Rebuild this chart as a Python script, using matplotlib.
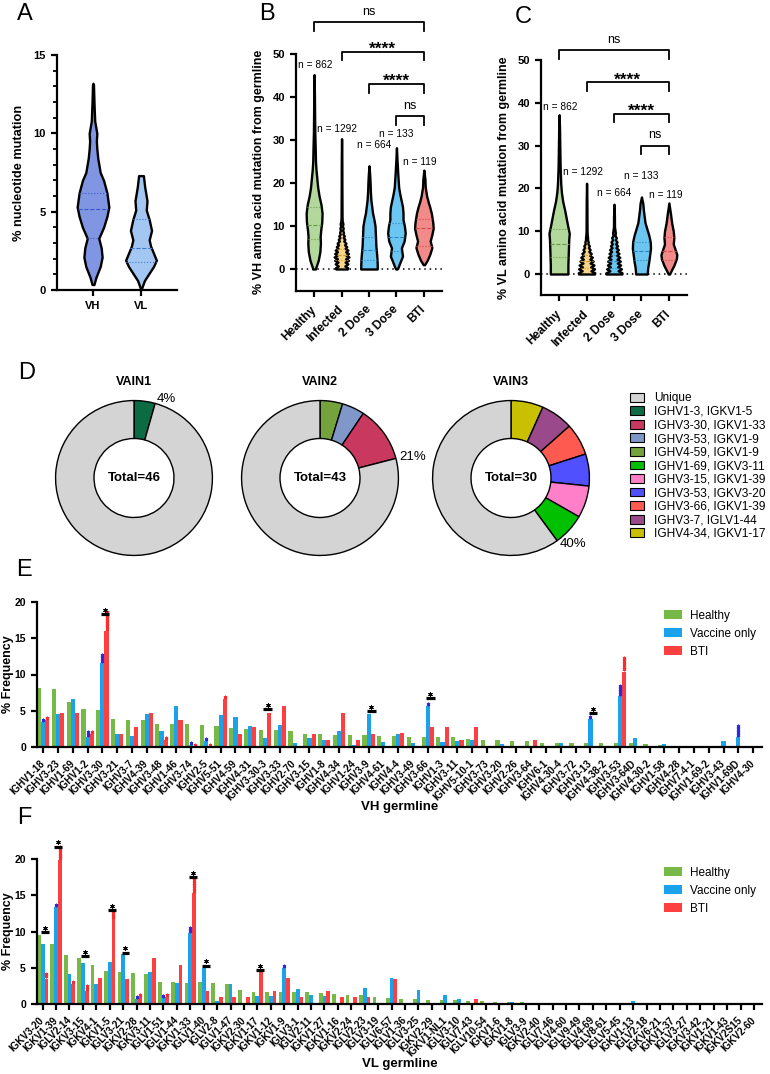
import numpy as np
from matplotlib import pyplot as plt
from matplotlib.patches import Patch

plt.rcParams['font.family'] = ['Liberation Sans', 'DejaVu Sans']
plt.rcParams['axes.linewidth'] = 1.6

### A: % nucleotide mutation, violin outlines (y, half width) ###
a_groups = ['VH', 'VL']
vh_y = [0.35, 0.8, 1.5, 2.1, 2.7, 3.3, 4.0, 4.7, 5.3, 6.2, 7.0, 7.5, 8.4, 9.0, 9.5, 10.0, 10.8, 12.0, 13.1, 13.2]
vh_w = [0.02, 0.06, 0.15, 0.19, 0.17, 0.12, 0.22, 0.29, 0.33, 0.29, 0.22, 0.15, 0.10, 0.08, 0.07, 0.08, 0.035, 0.02, 0.01, 0]
vl_y = [0, 0.6, 1.5, 1.9, 2.8, 3.2, 3.8, 4.5, 5.1, 5.7, 6.6, 7.3]
vl_w = [0, 0.07, 0.26, 0.32, 0.20, 0.17, 0.22, 0.17, 0.11, 0.125, 0.076, 0.05]
a_quart = [[3.3, 5.15, 6.2], [1.8, 2.65, 4.55]]

### B: % VH amino acid mutation ###
groups = ['Healthy', 'Infected', '2 Dose', '3 Dose', 'BTI']
n_cells = [862, 1292, 664, 133, 119]
b_healthy_y = [0, 0.5, 2, 4, 6, 7.5, 9, 11, 13, 15, 17, 19, 21, 23, 25, 28, 32, 36, 40, 45.2]
b_healthy_w = [0.05, 0.07, 0.15, 0.21, 0.23, 0.22, 0.24, 0.28, 0.29, 0.25, 0.18, 0.13, 0.10, 0.07, 0.05, 0.04, 0.024, 0.018, 0.012, 0]
b_infected_y = [0, 0.3, 0.7, 1.2, 1.6, 2.0, 2.4, 2.8, 3.2, 3.6, 4.0, 4.4, 4.8, 5.2, 5.6, 6.0, 6.5, 6.9, 7.3, 7.7,
                8.1, 8.5, 9.0, 9.5, 10.0, 10.5, 11.2, 12, 15, 20, 25, 30.3]
b_infected_w = [0.21, 0.22, 0.12, 0.23, 0.13, 0.25, 0.15, 0.27, 0.16, 0.25, 0.15, 0.23, 0.13, 0.19, 0.11, 0.16, 0.08,
                0.12, 0.06, 0.10, 0.05, 0.07, 0.04, 0.06, 0.03, 0.05, 0.024, 0.018, 0.015, 0.012, 0.01, 0]
b_dose2_y = [0, 1, 2.5, 4, 5.5, 7, 8.5, 10, 11.5, 13, 14.5, 16, 18, 20, 22, 24]
b_dose2_w = [0.30, 0.30, 0.29, 0.27, 0.25, 0.24, 0.23, 0.22, 0.18, 0.13, 0.10, 0.07, 0.05, 0.04, 0.024, 0]
b_dose3_y = [0, 0.4, 1.4, 3, 4.9, 6.5, 8.4, 10, 11.5, 13, 14.5, 16, 17.5, 19, 22, 25, 28.2]
b_dose3_w = [0.024, 0.06, 0.12, 0.22, 0.18, 0.28, 0.32, 0.29, 0.24, 0.24, 0.22, 0.17, 0.12, 0.08, 0.05, 0.024, 0]
b_bti_y = [1, 1.5, 2, 3.5, 5, 6.5, 8, 9.5, 11, 13, 14.5, 15.5, 17, 19, 21, 23]
b_bti_w = [0.024, 0.07, 0.12, 0.22, 0.29, 0.23, 0.29, 0.34, 0.32, 0.27, 0.21, 0.16, 0.10, 0.05, 0.036, 0]
b_quart = [[7.0, 10.3, 14.5], [2.0, 3.3, 4.7], [2.2, 4.4, 7.4], [4.3, 7.5, 10.8], [5.3, 9.6, 11.6]]

### C: % VL amino acid mutation ###
c_healthy_y = [0, 2, 4, 6, 8, 9.5, 11, 13, 15, 17, 19, 21, 25, 30, 34, 37.2]
c_healthy_w = [0.32, 0.32, 0.33, 0.34, 0.35, 0.37, 0.32, 0.26, 0.20, 0.13, 0.085, 0.06, 0.037, 0.024, 0.015, 0]
c_infected_y = [0, 0.3, 0.75, 1.2, 1.65, 2.1, 2.55, 3.0, 3.45, 3.9, 4.35, 4.8, 5.25, 5.7, 6.15, 6.6, 7.05, 7.5,
                8.0, 8.5, 9.2, 10, 13, 17, 21.2]
c_infected_w = [0.29, 0.30, 0.16, 0.29, 0.15, 0.27, 0.13, 0.24, 0.12, 0.21, 0.11, 0.17, 0.085, 0.13, 0.07, 0.10,
                0.05, 0.06, 0.037, 0.037, 0.024, 0.018, 0.015, 0.012, 0]
c_dose2_y = [0, 0.3, 0.75, 1.2, 1.65, 2.1, 2.55, 3.0, 3.45, 3.9, 4.35, 4.8, 5.25, 5.7, 6.15, 6.6, 7.05, 7.5,
             8.0, 8.5, 9.0, 9.6, 11, 13.5, 16.3]
c_dose2_w = [0.29, 0.29, 0.15, 0.27, 0.13, 0.24, 0.12, 0.23, 0.11, 0.21, 0.10, 0.18, 0.085, 0.16, 0.07, 0.13,
             0.06, 0.11, 0.05, 0.085, 0.037, 0.05, 0.018, 0.015, 0]
c_dose3_y = [0, 1.5, 3, 4.5, 6, 7.5, 9, 10.5, 12, 13.5, 15, 16.5, 18]
c_dose3_w = [0.21, 0.23, 0.27, 0.30, 0.33, 0.32, 0.27, 0.20, 0.13, 0.10, 0.07, 0.05, 0]
c_bti_y = [0, 1, 2, 3.5, 4.5, 5.5, 7, 8.5, 10, 12, 14, 16.6]
c_bti_w = [0.024, 0.10, 0.18, 0.27, 0.29, 0.24, 0.16, 0.18, 0.16, 0.10, 0.06, 0]
c_quart = [[4.0, 7.0, 10.5], [1.5, 3.0, 4.5], [1.5, 3.0, 4.5], [3.3, 5.4, 7.4], [3.2, 5.4, 8.6]]

sig_pairs = [(0, 4), (1, 4), (2, 4), (3, 4)]
sig_text = ['ns', '****', '****', 'ns']

### D: shared clonotypes per donor ###
pair_names = ['IGHV1-3, IGKV1-5', 'IGHV3-30, IGKV1-33', 'IGHV3-53, IGKV1-9', 'IGHV4-59, IGKV1-9',
              'IGHV1-69, IGKV3-11', 'IGHV3-15, IGKV1-39', 'IGHV3-53, IGKV3-20', 'IGHV3-66, IGKV1-39',
              'IGHV3-7, IGLV1-44', 'IGHV4-34, IGKV1-17']
vain1_pairs = ['IGHV1-3, IGKV1-5']
vain1_counts = [2]
vain1_unique = 44
vain2_pairs = ['IGHV4-59, IGKV1-9', 'IGHV3-53, IGKV1-9', 'IGHV3-30, IGKV1-33']
vain2_counts = [2, 2, 5]
vain2_unique = 34
vain3_pairs = ['IGHV4-34, IGKV1-17', 'IGHV3-7, IGLV1-44', 'IGHV3-66, IGKV1-39', 'IGHV3-53, IGKV3-20',
               'IGHV3-15, IGKV1-39', 'IGHV1-69, IGKV3-11']
vain3_counts = [2, 2, 2, 2, 2, 2]
vain3_unique = 18

### E: VH germline usage (% frequency) ###
e_genes = ['IGHV1-18', 'IGHV3-23', 'IGHV1-69', 'IGHV1-2', 'IGHV3-30', 'IGHV3-21', 'IGHV3-7', 'IGHV4-39',
           'IGHV3-48', 'IGHV1-46', 'IGHV3-74', 'IGHV2-5', 'IGHV5-51', 'IGHV4-59', 'IGHV4-31', 'IGHV3-30-3',
           'IGHV3-33', 'IGHV2-70', 'IGHV3-15', 'IGHV1-8', 'IGHV4-34', 'IGHV1-24', 'IGHV3-9', 'IGHV4-61',
           'IGHV4-4', 'IGHV3-49', 'IGHV3-66', 'IGHV1-3', 'IGHV3-11', 'IGHV5-10-1', 'IGHV3-73', 'IGHV3-20',
           'IGHV2-26', 'IGHV3-64', 'IGHV6-1', 'IGHV4-30-4', 'IGHV3-72', 'IGHV3-13', 'IGHV4-38-2', 'IGHV3-53',
           'IGHV3-64D', 'IGHV4-30-2', 'IGHV1-58', 'IGHV4-28', 'IGHV7-4-1', 'IGHV1-69-2', 'IGHV3-43',
           'IGHV1-69D', 'IGHV4-30']
e_healthy = [8.1, 8.0, 6.2, 5.3, 5.1, 3.9, 3.7, 3.7, 3.2, 3.2, 3.2, 3.0, 2.9, 2.6, 2.5, 2.4, 2.3, 2.2, 1.8, 1.8,
             1.7, 1.6, 1.6, 1.5, 1.5, 1.4, 1.4, 1.4, 1.4, 1.1, 1.0, 0.9, 0.8, 0.8, 0.6, 0.6, 0.6, 0.6, 0.6, 0.5,
             0.5, 0.4, 0.3, 0.2, 0, 0, 0, 0, 0]
e_vaccine = [3.4, 4.5, 6.6, 1.4, 11.6, 1.8, 1.5, 4.6, 2.2, 5.7, 0.3, 0.8, 4.4, 4.1, 2.9, 1.3, 3.0, 0.6, 1.2, 0.9,
             2.2, 0.3, 4.6, 0.7, 1.8, 0.55, 5.7, 0.7, 0.8, 1.0, 0, 0.4, 0, 0, 0, 0.55, 0.2, 3.9, 0.2, 7.0,
             1.3, 0.2, 0.35, 0, 0.15, 0, 0.8, 1.4, 0]
e_bti = [3.7, 4.7, 4.7, 1.8, 16.0, 1.8, 2.8, 4.7, 0.9, 3.7, 0, 0, 6.6, 1.8, 2.8, 4.7, 5.6, 0, 1.8, 0.9,
         4.7, 0.9, 1.8, 0, 1.9, 0, 2.8, 2.8, 0.9, 2.8, 0, 0, 0, 0.9, 0, 0, 0, 0, 0, 10.4,
         0, 0, 0, 0, 0, 0, 0, 0, 0]
e_vac_stars = {0: 1, 3: 2, 4: 3, 10: 1, 11: 1, 26: 1, 37: 1, 39: 4, 47: 4}
e_bti_stars = {0: 1, 3: 1, 4: 7, 8: 1, 10: 1, 11: 1, 12: 1, 39: 5}
e_sig_idx = [4, 15, 22, 26, 37]
e_sig_y = [18.3, 5.2, 4.9, 6.7, 4.7]

### F: VL germline usage (% frequency) ###
f_genes = ['IGKV3-20', 'IGKV1-39', 'IGLV2-14', 'IGKV3-15', 'IGKV4-1', 'IGKV1-5', 'IGLV3-21', 'IGKV2-28',
           'IGKV3-11', 'IGLV1-51', 'IGLV1-44', 'IGKV1-33', 'IGLV1-40', 'IGLV2-8', 'IGLV1-47', 'IGKV2-30',
           'IGKV1-17', 'IGKV1-12', 'IGKV1-9', 'IGLV3-1', 'IGLV2-11', 'IGKV1-27', 'IGKV1-16', 'IGKV2-24',
           'IGLV2-23', 'IGLV3-19', 'IGLV6-57', 'IGLV1-36', 'IGLV3-25', 'IGKV2-29', 'IGKV1-NL1', 'IGLV3-10',
           'IGLV7-43', 'IGLV10-54', 'IGKV1-6', 'IGKV1-8', 'IGLV3-9', 'IGKV2-40', 'IGLV7-46', 'IGLV4-60',
           'IGLV9-49', 'IGLV4-69', 'IGLV8-61', 'IGLV5-45', 'IGKV1-13', 'IGLV2-18', 'IGKV6-21', 'IGKV1-37',
           'IGLV3-27', 'IGKV3-42', 'IGKV1-21', 'IGKV1-43', 'IGKV2S15', 'IGKV2-60']
f_healthy = [9.5, 8.3, 6.8, 6.3, 5.4, 4.6, 4.4, 4.3, 4.1, 3.1, 3.0, 2.9, 3.0, 2.9, 2.8, 1.9, 1.7, 1.7, 1.6, 1.6,
             1.6, 1.5, 1.4, 1.2, 1.2, 1.0, 0.8, 0.7, 0.7, 0.6, 0.5, 0.5, 0.4, 0.4, 0.3, 0.3, 0.3, 0.15, 0.15,
             0.15, 0.15, 0.15, 0.15, 0.15, 0, 0, 0, 0, 0, 0, 0, 0, 0, 0]
f_vaccine = [8.3, 13.4, 4.2, 5.6, 2.7, 5.8, 6.9, 0.65, 4.4, 0.8, 2.9, 9.8, 5.0, 0.4, 2.8, 0, 1.1, 1.1, 5.0, 2.1,
             1.3, 1.1, 0, 0, 2.2, 0, 3.6, 0, 2.0, 0, 1.2, 0.7, 0, 0, 0.2, 0.3, 0, 0, 0, 0,
             0, 0, 0, 0.1, 0.4, 0, 0, 0, 0, 0, 0, 0, 0, 0.1]
f_bti = [3.5, 19.8, 2.7, 1.8, 3.6, 11.7, 3.5, 0.9, 6.3, 0.9, 5.4, 15.3, 1.8, 0.9, 0.9, 0.9, 4.5, 1.8, 3.6, 0.9,
         0, 1.8, 0.9, 0.9, 0.9, 0, 3.5, 0, 0, 0, 0, 0, 0.7, 0, 0, 0, 0, 0, 0, 0,
         0, 0, 0, 0, 0, 0, 0, 0, 0, 0, 0, 0, 0, 0]
f_vac_stars = {1: 1, 7: 1, 9: 1, 11: 2, 18: 1}
f_bti_stars = {0: 2, 1: 5, 2: 1, 3: 2, 5: 3, 7: 1, 9: 1, 11: 5}
f_sig_idx = [0, 1, 3, 5, 6, 11, 12, 16]
f_sig_y = [9.9, 21.7, 6.6, 12.9, 7.1, 17.5, 5.3, 4.7]

### STYLE ###
W, H = 770, 1074
viol_face = ['#b3d89c', '#f8d486', '#6cc6f2', '#6cc6f2', '#f28a8a']
viol_line = ['#6a9a48', '#c89a3a', '#2a86c0', '#2a86c0', '#d04848']
pair_colors = ['#0b6b45', '#c8385f', '#8097c9', '#74a33d', '#00c000', '#ff80c8', '#5050ff', '#ff5a50',
               '#9a4a8a', '#c8c000']
unique_color = '#d4d4d4'
c_green, c_blue, c_red = '#76b947', '#1aa3ec', '#fd3f3f'


def frac(x0, y0, x1, y1):
    # pixel box -> figure fraction
    return [x0 / W, 1 - y1 / H, (x1 - x0) / W, (y1 - y0) / H]


def clean(ax, size):
    for s in ['top', 'right']:
        ax.spines[s].set_visible(False)
    ax.tick_params(width=1.6, length=4.5, labelsize=size)
    ax.tick_params(which='minor', width=1.3, length=2.8)
    for t in ax.get_xticklabels() + ax.get_yticklabels():
        t.set_fontweight('bold')


def violin(ax, pos, ys, ws, face, qs, qc):
    ys = np.array(ys)
    ws = np.array(ws)
    ax.fill_betweenx(ys, pos - ws, pos + ws, facecolor=face, edgecolor='black', linewidth=1.7,
                     joinstyle='round', zorder=3)
    for k, q in enumerate(qs):
        hw = np.interp(q, ys, ws)
        ax.plot([pos - hw, pos + hw], [q, q], color=qc, lw=0.8, ls='--' if k == 1 else ':', zorder=4)


def bracket(ax, x1, x2, y, txt):
    ax.plot([x1, x1, x2, x2], [y - 2, y, y, y - 2], color='black', lw=1.3, clip_on=False)
    if txt == 'ns':
        ax.text((x1 + x2) / 2, y + 1.0, txt, ha='center', va='bottom', fontsize=9)
    else:
        ax.text((x1 + x2) / 2, y - 1.2, txt, ha='center', va='bottom', fontsize=12.5, fontweight='bold')


fig = plt.figure(figsize=(W / 100, H / 100), dpi=100)

### A ###
axA = fig.add_axes(frac(57, 55, 177, 290))
violin(axA, 0, vh_y, vh_w, '#8096e2', a_quart[0], '#3558c8')
violin(axA, 1, vl_y, vl_w, '#a3c6f2', a_quart[1], '#3f78d0')
axA.set_xlim(-0.75, 1.75)
axA.set_ylim(0, 15)
axA.set_xticks([0, 1])
axA.set_xticklabels(a_groups)
axA.set_yticks([0, 5, 10, 15])
axA.set_yticks(np.arange(0, 16, 1), minor=True)
axA.set_ylabel('% nucleotide mutation', fontsize=9.2, fontweight='bold', labelpad=6)
clean(axA, 8)

### B and C ###
b_prof = [(b_healthy_y, b_healthy_w), (b_infected_y, b_infected_w), (b_dose2_y, b_dose2_w),
          (b_dose3_y, b_dose3_w), (b_bti_y, b_bti_w)]
c_prof = [(c_healthy_y, c_healthy_w), (c_infected_y, c_infected_w), (c_dose2_y, c_dose2_w),
          (c_dose3_y, c_dose3_w), (c_bti_y, c_bti_w)]
b_levels = [57.4, 50.5, 43.0, 35.6]
c_levels = [52.3, 44.8, 37.4, 30.0]
b_ntext = [(0.05, 47.4), (-0.16, 32.6), (0.2, 28.8), (0.0, 31.3), (-0.15, 24.9)]
c_ntext = [(0.05, 39.0), (-0.13, 23.8), (0.0, 18.9), (0.0, 22.9), (-0.1, 18.5)]

axB = fig.add_axes(frac(296, 54, 442, 290.5))
axC = fig.add_axes(frac(541, 60, 687, 295.4))
for ax, prof, quart, levels, ntext, ylab in [
        (axB, b_prof, b_quart, b_levels, b_ntext, '% VH amino acid mutation from germline'),
        (axC, c_prof, c_quart, c_levels, c_ntext, '% VL amino acid mutation from germline')]:
    ax.axhline(0, color='black', ls=(0, (1, 2.5)), lw=1.1, zorder=1)
    for k, (ys, ws) in enumerate(prof):
        violin(ax, k, ys, ws, viol_face[k], quart[k], viol_line[k])
        ax.text(k + ntext[k][0], ntext[k][1], 'n = %d' % n_cells[k], ha='center', va='center', fontsize=7.3)
    for (i, j), lev, txt in zip(sig_pairs, levels, sig_text):
        bracket(ax, i, j, lev, txt)
    ax.set_xlim(-0.66, 4.66)
    ax.set_ylim(-5, 50)
    ax.set_yticks([0, 10, 20, 30, 40, 50])
    ax.set_xticks(range(5))
    ax.set_xticklabels(groups, rotation=45, ha='right', va='center', rotation_mode='anchor')
    ax.tick_params(axis='x', pad=8)
    ax.set_ylabel(ylab, fontsize=9, fontweight='bold', labelpad=5)
    clean(ax, 8)
    for t in ax.get_xticklabels():
        t.set_fontsize(8.6)

### D ###
donuts = [('VAIN1', vain1_pairs, vain1_counts, vain1_unique, 134),
          ('VAIN2', vain2_pairs, vain2_counts, vain2_unique, 320),
          ('VAIN3', vain3_pairs, vain3_counts, vain3_unique, 511)]
for title, names, counts, unique, cx in donuts:
    ax = fig.add_axes(frac(cx - 80, 478 - 79, cx + 80, 478 + 79))
    cols = [pair_colors[pair_names.index(n)] for n in names] + [unique_color]
    ax.pie(counts + [unique], colors=cols, startangle=90, counterclock=False, radius=1,
           wedgeprops=dict(width=0.49, edgecolor='black', linewidth=1.0))
    ax.set_aspect('auto')
    ax.set_xlim(-1.02, 1.02)
    ax.set_ylim(-1.02, 1.02)
    total = sum(counts) + unique
    ax.text(0, 0, 'Total=%d' % total, ha='center', va='center', fontsize=9.5, fontweight='bold')
    ax.text(0, 1.24, title, ha='center', va='center', fontsize=9, fontweight='bold')
    ang = np.deg2rad(90 - 360 * sum(counts) / total)
    ax.text(1.05 * np.cos(ang), 1.06 * np.sin(ang), '%d%%' % round(100 * sum(counts) / total),
            ha='left', va='center', fontsize=9.5)

handles = [Patch(facecolor=unique_color, edgecolor='black', lw=0.8)] + \
          [Patch(facecolor=c, edgecolor='black', lw=0.8) for c in pair_colors]
fig.legend(handles, ['Unique'] + pair_names, loc='upper left', bbox_to_anchor=(622 / W, 1 - 384 / H),
           frameon=False, fontsize=8.6, handlelength=1.1, handleheight=0.75,
           handletextpad=0.9, labelspacing=0.13, borderpad=0.2)

### E and F ###
axE = fig.add_axes(frac(37, 602, 762, 747))
axF = fig.add_axes(frac(37, 859, 762, 1004))
bw = 0.28
for ax, genes, hv, vv, bv, vstars, bstars, sidx, sy, xlab in [
        (axE, e_genes, e_healthy, e_vaccine, e_bti, e_vac_stars, e_bti_stars, e_sig_idx, e_sig_y, 'VH germline'),
        (axF, f_genes, f_healthy, f_vaccine, f_bti, f_vac_stars, f_bti_stars, f_sig_idx, f_sig_y, 'VL germline')]:
    x = np.arange(len(genes))
    ax.bar(x - bw, hv, bw, color=c_green, label='Healthy')
    ax.bar(x, vv, bw, color=c_blue, label='Vaccine only')
    ax.bar(x + bw, bv, bw, color=c_red, label='BTI')
    for i, n in vstars.items():
        for k in range(n):
            ax.plot(i, vv[i] + 0.3 + 0.38 * k, marker=(6, 2, 0), ms=2.6, mew=0.6, color='#2a2ae0',
                    clip_on=False)
    for i, n in bstars.items():
        for k in range(n):
            ax.plot(i + bw, bv[i] + 0.3 + 0.38 * k, marker=(6, 2, 0), ms=2.6, mew=0.6, color='#ff2a2a',
                    clip_on=False)
    for i, y in zip(sidx, sy):
        ax.plot([i - 0.12, i + 0.47], [y, y], color='black', lw=2.3, solid_capstyle='butt', clip_on=False)
        ax.plot(i + 0.17, y + 0.6, marker=(6, 2, 0), ms=3.2, mew=0.7, color='black', clip_on=False)
    ax.set_xlim(-0.42, len(genes) - 0.4)
    ax.set_ylim(0, 20)
    ax.set_yticks([0, 5, 10, 15, 20])
    ax.set_xticks(x)
    ax.set_xticklabels(genes, rotation=45, ha='right', va='center', rotation_mode='anchor')
    ax.tick_params(axis='x', pad=6, length=5.5, width=1.8)
    ax.set_ylabel('% Frequency', fontsize=9, fontweight='bold')
    ax.yaxis.set_label_coords(-0.032, 0.5)
    ax.set_xlabel(xlab, fontsize=9.5, fontweight='bold')
    ax.xaxis.set_label_coords(0.5, -0.37)
    ax.legend(loc='upper left', bbox_to_anchor=(0.85, 1.02), frameon=False, fontsize=8.5,
              handlelength=1.5, handleheight=0.7, handletextpad=0.7, labelspacing=0.5)
    clean(ax, 7.5)
    for t in ax.get_xticklabels():
        t.set_fontsize(7.1)

### panel letters ###
for letter, px, py in [('A', 17, 3), ('B', 259, 3), ('C', 515, 6), ('D', 18, 362), ('E', 16, 559), ('F', 17, 807)]:
    fig.text(px / W, 1 - py / H, letter, fontsize=17, va='top', ha='left')

fig.savefig('out.png', dpi=100)
